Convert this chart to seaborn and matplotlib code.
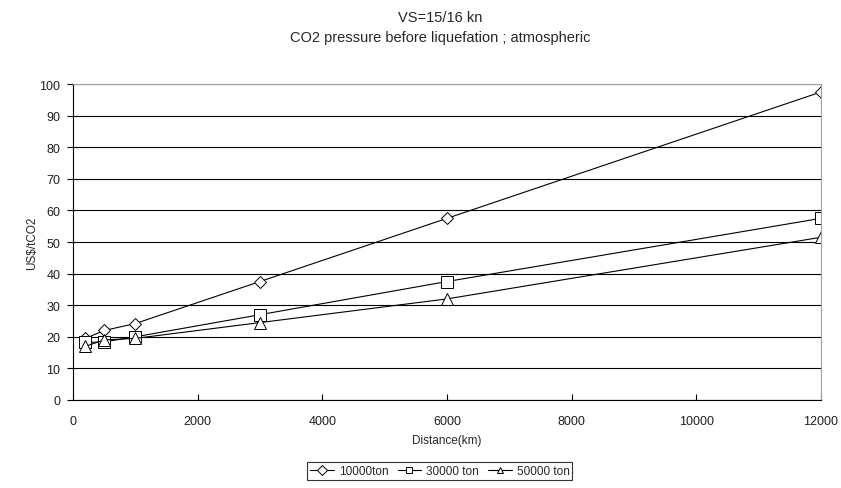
import matplotlib
matplotlib.use("Agg")
import matplotlib.pyplot as plt
import seaborn as sns
import pandas as pd

distance = [200, 500, 1000, 3000, 6000, 12000]
cost_10000 = [19.5, 22.0, 24.2, 37.5, 57.5, 97.5]
cost_30000 = [18.2, 18.4, 20.0, 27.0, 37.5, 57.5]
cost_50000 = [17.0, 19.0, 19.5, 24.5, 32.0, 51.5]
series_names = ["10000ton", "30000 ton", "50000 ton"]
x_ticks = [0, 2000, 4000, 6000, 8000, 10000, 12000]
y_ticks = list(range(0, 101, 10))

df = pd.DataFrame({
    "Distance": distance * 3,
    "Cost": cost_10000 + cost_30000 + cost_50000,
    "Series": sum([[n] * len(distance) for n in series_names], []),
})

sns.set_style("white")
plt.rcParams["font.family"] = ["Liberation Sans", "DejaVu Sans"]

fig = plt.figure(figsize=(8.41, 4.89), dpi=100)
ax = fig.add_axes([0.0868, 0.18, 0.8894, 0.646])

markers = {"10000ton": "D", "30000 ton": "s", "50000 ton": "^"}
msizes = {"10000ton": 6, "30000 ton": 8, "50000 ton": 8}
for name in series_names:
    sub = df[df["Series"] == name]
    sns.lineplot(data=sub, x="Distance", y="Cost", ax=ax, color="black", lw=0.8,
                 marker=markers[name], markersize=msizes[name], markerfacecolor="white",
                 markeredgecolor="black", markeredgewidth=0.7, label=name)

ax.set_xlim(0, 12000)
ax.set_ylim(0, 100)
ax.set_xticks(x_ticks)
ax.set_yticks(y_ticks)
ax.yaxis.grid(True, color="black", lw=0.8)
ax.xaxis.grid(False)
for s in ["top", "right"]:
    ax.spines[s].set_color("#a0a0a0")
    ax.spines[s].set_linewidth(0.8)
for s in ["left", "bottom"]:
    ax.spines[s].set_color("black")
    ax.spines[s].set_linewidth(0.8)
ax.tick_params(axis="x", direction="in", length=4, labelsize=9, pad=11, color="black", bottom=True)
ax.tick_params(axis="y", direction="out", length=4, labelsize=9, pad=5, color="black", left=True)
ax.set_xlabel("Distance(km)", fontsize=8.5, labelpad=5)
ax.set_ylabel("US$/tCO2", fontsize=8.5, labelpad=1)
for lab in ax.get_xticklabels() + ax.get_yticklabels():
    lab.set_color("#202020")

fig.text(0.523, 0.963, "VS=15/16 kn", ha="center", va="center", fontsize=10.5)
fig.text(0.523, 0.922, "CO2 pressure before liquefation ; atmospheric", ha="center", va="center", fontsize=10.5)

leg = ax.legend(loc="center", bbox_to_anchor=(0.523, 0.035), bbox_transform=fig.transFigure,
                ncol=3, frameon=True,
                fontsize=8.5, handlelength=2.0, columnspacing=0.8, handletextpad=0.4,
                fancybox=False, edgecolor="black", borderpad=0.25)
leg.get_frame().set_linewidth(0.8)
for h in leg.legend_handles:
    h.set_markersize(5)

fig.savefig("out.png", dpi=100)
